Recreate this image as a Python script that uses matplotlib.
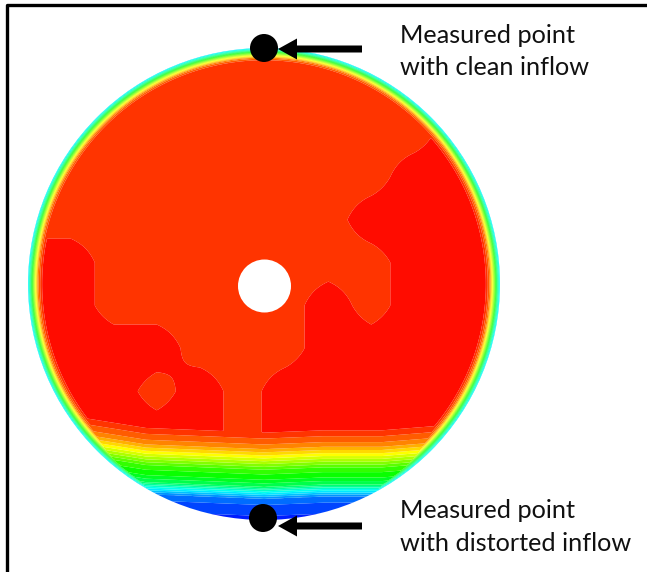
import numpy as np
import matplotlib
matplotlib.use("Agg")
import matplotlib.pyplot as plt
from matplotlib.colors import LinearSegmentedColormap, BoundaryNorm, ListedColormap
from matplotlib.patches import Circle

# ---- flow field description (normalised disk coordinates, radius = 1) ----
# velocity ratio across the wall boundary layer (distance from the wall)
wall_offset = [0.000, 0.008, 0.018, 0.030, 0.042, 0.055, 0.070]
wall_value = [0.22, 0.32, 0.50, 0.70, 0.86, 0.94, 1.00]

# velocity ratio in the distorted sector (vertical coordinate, bottom = -1)
distortion_height = [-1.00, -0.95, -0.91, -0.89, -0.875, -0.86, -0.83, -0.79, -0.76, -0.73, -0.70, -0.67, -0.64, -0.61]
distortion_value = [0.03, 0.06, 0.12, 0.22, 0.30, 0.40, 0.48, 0.55, 0.65, 0.75, 0.84, 0.90, 0.94, 1.00]

# lateral waviness of the distortion bands (positive = band raised)
wave_x = [-1.0, -0.75, -0.5, -0.25, 0.0, 0.25, 0.5, 0.75, 1.0]
wave_shift = [0.10, 0.06, 0.02, 0.01, 0.0, 0.01, 0.01, 0.03, 0.08]

# core flow: 0 = slightly reduced velocity, 1 = peak velocity
core_table = [
    [0, 0, 0, 0, 0, 0, 0, 0, 0, 0, 0, 0],
    [0, 0, 0, 0, 0, 0, 0, 0, 0, 0, 0, 0],
    [0, 0, 0, 0, 0, 0, 0, 0, 0, 0, 1, 0],
    [0, 0, 0, 0, 0, 0, 0, 0, 0, 1, 1, 1],
    [0, 0, 0, 0, 0, 0, 0, 0, 1, 1, 1, 1],
    [1, 1, 0, 0, 0, 0, 0, 0, 0, 1, 1, 1],
    [1, 1, 0, 0, 0, 0, 0, 1, 0, 1, 1, 1],
    [1, 1, 1, 1, 0, 0, 0, 1, 1, 1, 1, 1],
    [1, 1, 1, 0, 1, 0, 1, 1, 1, 1, 1, 1],
    [1, 1, 1, 1, 1, 0, 1, 1, 1, 1, 1, 1],
    [1, 1, 1, 1, 1, 1, 1, 1, 1, 1, 1, 1],
    [1, 1, 1, 1, 1, 1, 1, 1, 1, 1, 1, 1],
]
core_low, core_high = 0.94, 0.985

labels_top = ["Measured point", "with clean inflow"]
labels_bottom = ["Measured point", "with distorted inflow"]

# ---- layout (pixel space) ----
W, H = 647, 572
cx, cy, R = 264.0, 284.0, 236.0
hub_x, hub_y, hub_r = 264.5, 286.0, 26.5

fig = plt.figure(figsize=(W / 100, H / 100), dpi=100)
ax = fig.add_axes([0, 0, 1, 1])
ax.set_xlim(0, W)
ax.set_ylim(H, 0)
ax.set_aspect("equal")
ax.axis("off")

# grid over the disk
n = 700
xs = np.linspace(cx - R - 4, cx + R + 4, n)
ys = np.linspace(cy - R - 4, cy + R + 4, n)
X, Y = np.meshgrid(xs, ys)
nx = (X - cx) / R
ny = (cy - Y) / R
rr = np.sqrt(nx ** 2 + ny ** 2)

# core field from the table (bilinear)
tab = np.array(core_table, dtype=float)
m = tab.shape[0] - 1
fi = np.clip((1 - ny) / 2 * m, 0, m - 1e-9)
fj = np.clip((nx + 1) / 2 * m, 0, m - 1e-9)
i0 = np.floor(fi).astype(int)
j0 = np.floor(fj).astype(int)
ti = fi - i0
tj = fj - j0
c = (tab[i0, j0] * (1 - ti) * (1 - tj) + tab[i0 + 1, j0] * ti * (1 - tj)
     + tab[i0, j0 + 1] * (1 - ti) * tj + tab[i0 + 1, j0 + 1] * ti * tj)
core = core_low + (core_high - core_low) * c

wall = np.interp(1 - rr, wall_offset, wall_value)
shift = np.interp(nx, wave_x, wave_shift)
dist = np.interp(ny - shift, distortion_height, distortion_value)
V = np.minimum(np.minimum(core, wall), dist)

# rainbow palette, banded
rainbow = LinearSegmentedColormap.from_list(
    "rainbow_cfd",
    [(0.0, (0.0, 0.0, 1.0)), (0.25, (0.0, 1.0, 1.0)), (0.5, (0.0, 1.0, 0.0)),
     (0.75, (1.0, 1.0, 0.0)), (1.0, (1.0, 0.0, 0.0))])
levels = np.linspace(0, 1, 26)
step = levels[1] - levels[0]
cmap = ListedColormap([rainbow(min(v + 0.7 * step, 1.0)) for v in levels[:-1]])
norm = BoundaryNorm(levels, cmap.N)

cs = ax.contourf(X, Y, V, levels=levels, cmap=cmap, norm=norm, antialiased=True)
disk = Circle((cx, cy), R, transform=ax.transData, facecolor="none", edgecolor="none")
ax.add_patch(disk)
cs.set_clip_path(disk)

ax.add_patch(Circle((hub_x, hub_y), hub_r, facecolor="white", edgecolor="none", zorder=3))

# measurement markers and arrows
for (px, py, ay) in [(264, 48, 49), (263, 518, 526)]:
    ax.add_patch(Circle((px, py), 14, facecolor="black", edgecolor="none", zorder=5))
    ax.arrow(362, ay, -84, 0, width=7, head_width=21, head_length=19,
             length_includes_head=True, facecolor="black", edgecolor="none", zorder=5)

font = dict(family=["Lato", "DejaVu Sans"], fontsize=18.2, color="#111111", va="baseline", ha="left")
for txt, by in zip(labels_top, [43, 75]):
    ax.text(400, by, txt, **font)
for txt, by in zip(labels_bottom, [518, 551]):
    ax.text(400, by, txt, **font)

# frame
ax.plot([7, 7, W + 5], [H + 5, 5, 5], color="black", lw=2.4, solid_capstyle="butt", clip_on=False)

fig.savefig("out.png", dpi=100)
